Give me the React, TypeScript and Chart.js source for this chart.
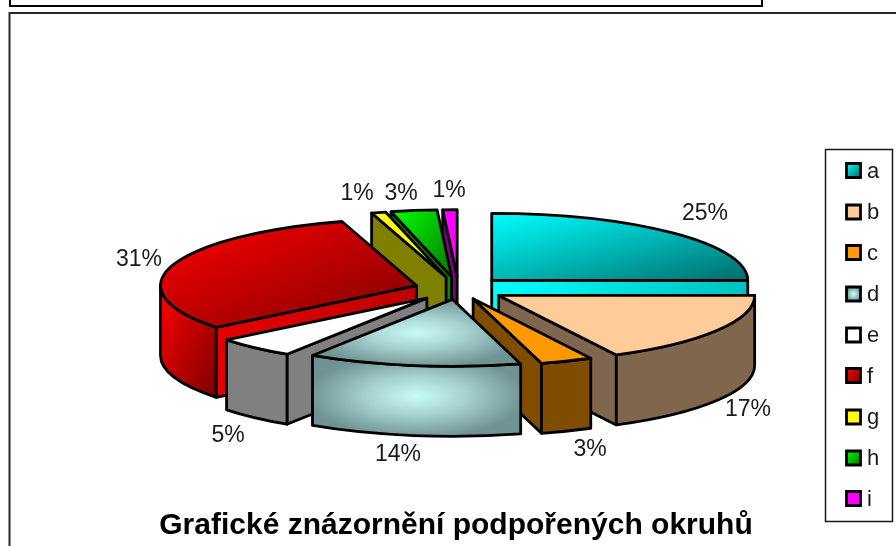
import React, { useEffect, useRef } from "react";
import { Chart, registerables } from "chart.js";

Chart.register(...registerables);

const categories = ["a", "b", "c", "d", "e", "f", "g", "h", "i"];
const shares = [25, 17.4, 3.3, 13.5, 5.1, 31, 0.9, 2.9, 0.9];
const chartTitle = "Grafické znázornění podpořených okruhů";
const FONT = '"Liberation Sans", Arial, sans-serif';

type Paint =
  | { kind: "flat"; c: string }
  | { kind: "diag"; from: string; to: string }
  | { kind: "horiz"; from: string; to: string }
  | { kind: "radial"; from: string; to: string };

const flat = (c: string): Paint => ({ kind: "flat", c });
const topPaints: Paint[] = [
  { kind: "diag", from: "#00ffff", to: "#006c6c" },
  flat("#ffcc99"),
  flat("#ff9900"),
  { kind: "radial", from: "#c8fbf8", to: "#6f9292" },
  flat("#ffffff"),
  { kind: "diag", from: "#ff0000", to: "#7c0000" },
  flat("#ffff00"),
  { kind: "diag", from: "#00ff00", to: "#007800" },
  flat("#ff00ff"),
];
const arcPaints: Paint[] = [
  flat("#00c8c8"),
  flat("#80664c"),
  flat("#804c00"),
  { kind: "radial", from: "#c8fbf8", to: "#6f9292" },
  flat("#808080"),
  { kind: "diag", from: "#ff0000", to: "#7c0000" },
  flat("#808000"),
  flat("#008000"),
  flat("#800080"),
];
const planePaints: Paint[] = [
  { kind: "horiz", from: "#00ffff", to: "#00c0c0" },
  flat("#80664c"),
  flat("#804c00"),
  flat("#6f9292"),
  flat("#808080"),
  { kind: "horiz", from: "#e60000", to: "#bc0000" },
  flat("#808000"),
  flat("#009000"),
  flat("#800080"),
];

// Label anchors, in the same order as the categories.
const labelAt = [
  [705, 214], [748, 410], [590, 450], [398, 455], [228, 436],
  [139, 260], [357, 194], [401, 194], [449, 191],
];
const legendRowY = [170.5, 212, 252.5, 294, 335, 375.5, 417, 458, 498.5];
const paintOrder = [8, 7, 6, 0, 5, 1, 4, 2, 3];
const sliceExplode = [47, 47, 40, 40, 47, 44, 47, 47, 47];

const PIE = { cx: 458.5, cy: 289, rx: 256, ry: 67, depth: 70 };

function fillPaint(
  ctx: CanvasRenderingContext2D,
  p: Paint,
  box: { x: number; y: number; w: number; h: number },
) {
  ctx.save();
  ctx.clip();
  if (p.kind === "flat") {
    ctx.fillStyle = p.c;
    ctx.fillRect(box.x - 2, box.y - 2, box.w + 4, box.h + 4);
  } else if (p.kind === "radial") {
    const mx = box.x + box.w / 2;
    const my = box.y + box.h / 2;
    ctx.translate(mx, my);
    ctx.scale(box.w / 2, box.h / 2);
    const g = ctx.createRadialGradient(0, 0, 0, 0, 0, 1.05);
    g.addColorStop(0, p.from);
    g.addColorStop(0.45, "#a6d2d0");
    g.addColorStop(1, p.to);
    ctx.fillStyle = g;
    ctx.fillRect(-1.2, -1.2, 2.4, 2.4);
  } else {
    let g: CanvasGradient;
    if (p.kind === "horiz") {
      g = ctx.createLinearGradient(box.x, 0, box.x + box.w, 0);
    } else {
      const { w, h } = box;
      const d = w * w + h * h;
      const len = (2 * w * h) / d;
      g = ctx.createLinearGradient(box.x, box.y, box.x + h * len, box.y + w * len);
    }
    g.addColorStop(0, p.from);
    g.addColorStop(1, p.to);
    ctx.fillStyle = g;
    ctx.fillRect(box.x - 2, box.y - 2, box.w + 4, box.h + 4);
  }
  ctx.restore();
}

function boundsOf(pts: number[][]) {
  const xs = pts.map((p) => p[0]);
  const ys = pts.map((p) => p[1]);
  const x = Math.min(...xs);
  const y = Math.min(...ys);
  return { x, y, w: Math.max(...xs) - x, h: Math.max(...ys) - y };
}

function arcSamples(ax: number, ay: number, s: number, e: number) {
  const pts: number[][] = [];
  for (let i = 0; i <= 24; i++) {
    const t = s + ((e - s) * i) / 24;
    pts.push([ax + PIE.rx * Math.cos(t), ay + PIE.ry * Math.sin(t)]);
  }
  return pts;
}

function drawSlice(ctx: CanvasRenderingContext2D, el: any, i: number) {
  const { startAngle: s, endAngle: e } = el.getProps(["startAngle", "endAngle"], true);
  const off = el.options.offset;
  const mid = (s + e) / 2;
  const { rx, ry, depth } = PIE;
  const ax = PIE.cx + off * Math.cos(mid);
  const ay = PIE.cy + (off * ry * Math.sin(mid)) / rx;
  const stroke = () => ctx.stroke();

  const plane = (t: number) => {
    const px = ax + rx * Math.cos(t);
    const py = ay + ry * Math.sin(t);
    ctx.beginPath();
    ctx.moveTo(ax, ay);
    ctx.lineTo(px, py);
    ctx.lineTo(px, py + depth);
    ctx.lineTo(ax, ay + depth);
    ctx.closePath();
    fillPaint(ctx, planePaints[i], boundsOf([[ax, ay], [px, py], [px, py + depth], [ax, ay + depth]]));
    stroke();
  };
  if (Math.cos(s) < -1e-6) plane(s);
  if (Math.cos(e) > 1e-6 || Math.abs(e) < 1e-6) plane(e);

  const s2 = Math.max(s, 0);
  const e2 = Math.min(e, Math.PI);
  if (s2 < e2) {
    ctx.beginPath();
    ctx.ellipse(ax, ay, rx, ry, 0, s2, e2);
    ctx.ellipse(ax, ay + depth, rx, ry, 0, e2, s2, true);
    ctx.closePath();
    const pts = arcSamples(ax, ay, s2, e2);
    fillPaint(ctx, arcPaints[i], boundsOf(pts.concat(pts.map((p) => [p[0], p[1] + depth]))));
    stroke();
  }

  ctx.beginPath();
  ctx.moveTo(ax, ay);
  ctx.ellipse(ax, ay, rx, ry, 0, s, e);
  ctx.closePath();
  fillPaint(ctx, topPaints[i], boundsOf(arcSamples(ax, ay, s, e).concat([[ax, ay]])));
  stroke();
}

const pie3d = {
  id: "pie3d",
  beforeDatasetsDraw(chart: any) {
    const ctx: CanvasRenderingContext2D = chart.ctx;
    const arcs = chart.getDatasetMeta(0).data;
    ctx.save();
    ctx.strokeStyle = "#000";
    ctx.lineWidth = 2.8;
    ctx.lineJoin = "round";
    paintOrder.forEach((i) => drawSlice(ctx, arcs[i], i));

    ctx.fillStyle = "#1a1a1a";
    ctx.font = `23px ${FONT}`;
    ctx.textAlign = "center";
    ctx.textBaseline = "middle";
    shares.forEach((v, i) => {
      ctx.fillText(`${Math.round(v)}%`, labelAt[i][0], labelAt[i][1]);
    });
    ctx.restore();
    return false;
  },
  beforeDraw(chart: any) {
    const ctx: CanvasRenderingContext2D = chart.ctx;
    ctx.save();
    ctx.fillStyle = "#fff";
    ctx.fillRect(0, 0, chart.width, chart.height);
    ctx.strokeStyle = "#000";
    ctx.lineWidth = 2;
    ctx.beginPath();
    ctx.moveTo(10, 0);
    ctx.lineTo(10, 6);
    ctx.lineTo(762, 6);
    ctx.lineTo(762, 0);
    ctx.stroke();
    ctx.strokeStyle = "#2a2a2a";
    ctx.beginPath();
    ctx.moveTo(9.5, 546);
    ctx.lineTo(9.5, 13);
    ctx.lineTo(896, 13);
    ctx.stroke();
    ctx.restore();
  },
  afterDraw(chart: any) {
    const ctx: CanvasRenderingContext2D = chart.ctx;
    ctx.save();
    ctx.strokeStyle = "#1a1a1a";
    ctx.lineWidth = 1.5;
    ctx.strokeRect(825.5, 149.5, 67, 372);
    ctx.font = `22px ${FONT}`;
    ctx.textAlign = "left";
    ctx.textBaseline = "middle";
    categories.forEach((label, i) => {
      const y = legendRowY[i];
      ctx.beginPath();
      ctx.rect(846.5, y - 7, 14, 14);
      ctx.strokeStyle = "#000";
      ctx.lineWidth = 2.8;
      fillPaint(ctx, topPaints[i], { x: 846.5, y: y - 7, w: 14, h: 14 });
      ctx.stroke();
      ctx.fillStyle = "#1a1a1a";
      ctx.fillText(label, 867, y + 1);
    });
    ctx.restore();
  },
};

export default function App() {
  const ref = useRef<HTMLCanvasElement>(null);
  useEffect(() => {
    const chart = new Chart(ref.current!, {
      type: "pie",
      data: {
        labels: categories,
        datasets: [{ data: shares, offset: sliceExplode, borderColor: "#000", borderWidth: 2 } as any],
      },
      plugins: [pie3d as any],
      options: {
        responsive: false,
        animation: false,
        layout: { padding: { left: 16, right: 0, top: 0, bottom: 0 } },
        plugins: {
          legend: { display: false },
          tooltip: { enabled: false },
          title: {
            display: true,
            text: chartTitle,
            position: "bottom",
            color: "#000",
            font: { family: FONT, size: 30, weight: "bold", lineHeight: 1.2 },
            padding: { top: 0, bottom: 2 },
          },
        },
      },
    });
    return () => chart.destroy();
  }, []);
  return (
    <canvas
      ref={ref}
      width={896}
      height={546}
      style={{ position: "fixed", left: 0, top: 0, width: 896, height: 546 }}
    />
  );
}
